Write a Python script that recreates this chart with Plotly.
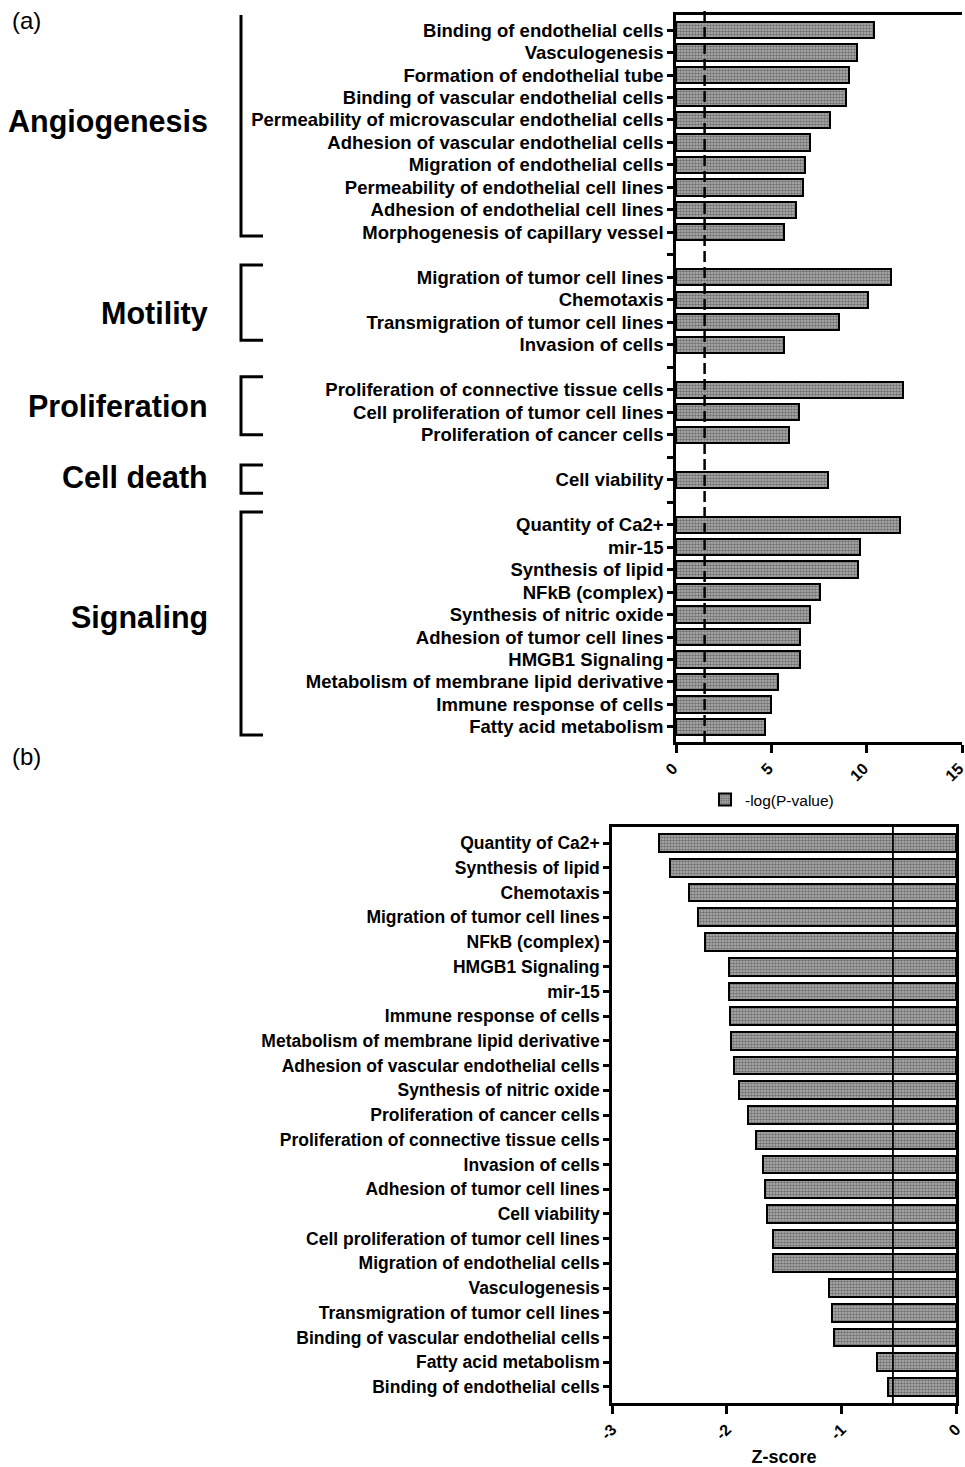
import plotly.graph_objects as go

# ---------------- Data: panel (a) ----------------
group_names = ["Angiogenesis", "Motility", "Proliferation", "Cell death", "Signaling"]

angio_terms = ["Binding of endothelial cells", "Vasculogenesis", "Formation of endothelial tube",
               "Binding of vascular endothelial cells", "Permeability of microvascular endothelial cells",
               "Adhesion of vascular endothelial cells", "Migration of endothelial cells",
               "Permeability of endothelial cell lines", "Adhesion of endothelial cell lines",
               "Morphogenesis of capillary vessel"]
angio_vals = [10.4, 9.5, 9.07, 8.9, 8.07, 7.03, 6.76, 6.66, 6.29, 5.66]

motility_terms = ["Migration of tumor cell lines", "Chemotaxis", "Transmigration of tumor cell lines",
                  "Invasion of cells"]
motility_vals = [11.27, 10.07, 8.55, 5.66]

prolif_terms = ["Proliferation of connective tissue cells", "Cell proliferation of tumor cell lines",
                "Proliferation of cancer cells"]
prolif_vals = [11.9, 6.45, 5.93]

death_terms = ["Cell viability"]
death_vals = [7.97]

signal_terms = ["Quantity of Ca2+", "mir-15", "Synthesis of lipid", "NFkB (complex)",
                "Synthesis of nitric oxide", "Adhesion of tumor cell lines", "HMGB1 Signaling",
                "Metabolism of membrane lipid derivative", "Immune response of cells",
                "Fatty acid metabolism"]
signal_vals = [11.75, 9.65, 9.54, 7.55, 7.03, 6.5, 6.5, 5.35, 4.98, 4.67]

threshold_a = 1.5
xticks_a = [0, 5, 10, 15]

# ---------------- Data: panel (b) ----------------
z_terms = ["Quantity of Ca2+", "Synthesis of lipid", "Chemotaxis", "Migration of tumor cell lines",
           "NFkB (complex)", "HMGB1 Signaling", "mir-15", "Immune response of cells",
           "Metabolism of membrane lipid derivative", "Adhesion of vascular endothelial cells",
           "Synthesis of nitric oxide", "Proliferation of cancer cells",
           "Proliferation of connective tissue cells", "Invasion of cells",
           "Adhesion of tumor cell lines", "Cell viability", "Cell proliferation of tumor cell lines",
           "Migration of endothelial cells", "Vasculogenesis", "Transmigration of tumor cell lines",
           "Binding of vascular endothelial cells", "Fatty acid metabolism",
           "Binding of endothelial cells"]
z_vals = [-2.59, -2.49, -2.33, -2.25, -2.19, -1.98, -1.98, -1.97, -1.96, -1.94, -1.89, -1.81,
          -1.74, -1.68, -1.67, -1.65, -1.60, -1.60, -1.11, -1.08, -1.06, -0.69, -0.59]
threshold_b = -0.55
xticks_b = [-3, -2, -1, 0]
xticktext_b = ["-3", "-2", "-1", "0"]

# ---------------- Build slots for panel (a) ----------------
groups_terms = [angio_terms, motility_terms, prolif_terms, death_terms, signal_terms]
groups_vals = [angio_vals, motility_vals, prolif_vals, death_vals, signal_vals]

slot_labels, bar_pos, bar_vals, group_ranges = [], [], [], []
pos = 0
for gi, (terms, vals) in enumerate(zip(groups_terms, groups_vals)):
    start = pos
    for t, v in zip(terms, vals):
        slot_labels.append(t)
        bar_pos.append(pos)
        bar_vals.append(v)
        pos += 1
    group_ranges.append((start, pos - 1))
    if gi < len(groups_terms) - 1:
        slot_labels.append("")
        pos += 1
n_slots = pos

# ---------------- Styling ----------------
W, H = 965, 1467
FONT = "Liberation Sans"
BLACK = "black"
LW = 2.5

def px_x(p):
    return p / W

def px_y(p):
    return 1 - p / H

bar_marker = dict(
    color="#ababab",
    line=dict(color=BLACK, width=2),
    pattern=dict(shape=".", fgcolor="#303030", bgcolor="#b4b4b4", size=3, solidity=0.55),
)

fig = go.Figure()

fig.add_trace(go.Bar(
    x=bar_vals, y=bar_pos, orientation="h", width=0.72,
    marker=bar_marker, name="-log(P-value)", showlegend=True,
    xaxis="x", yaxis="y",
))

fig.add_trace(go.Bar(
    x=z_vals, y=list(range(len(z_terms))), orientation="h", width=0.72,
    marker=bar_marker, name="Z-score", showlegend=False,
    xaxis="x2", yaxis="y2",
))

fig.update_layout(
    width=W, height=H,
    margin=dict(l=0, r=0, t=0, b=0, autoexpand=False),
    paper_bgcolor="white", plot_bgcolor="white",
    font=dict(family=FONT, color=BLACK),
    bargap=0,
    xaxis=dict(
        domain=[px_x(676), px_x(962)], anchor="y", range=[0, 15], automargin=False,
        tickvals=xticks_a, ticktext=[str(v) for v in xticks_a],
        tickangle=-45, ticks="outside", ticklen=8, tickwidth=LW, tickcolor=BLACK,
        ticklabeloverflow="allow", ticklabelshift=-3,
        showline=True, linewidth=LW, linecolor=BLACK, mirror=True,
        showgrid=False, zeroline=False,
        tickfont=dict(family=FONT, size=16, color=BLACK, weight="bold"),
    ),
    yaxis=dict(
        domain=[px_y(742), px_y(15)], anchor="x", automargin=False,
        range=[n_slots - 1 + 0.67, -0.67],
        tickvals=list(range(n_slots)), ticktext=slot_labels,
        ticks="outside", ticklen=6, tickwidth=LW, tickcolor=BLACK,
        showline=True, linewidth=LW, linecolor=BLACK,
        showgrid=False, zeroline=False,
        tickfont=dict(family=FONT, size=18.5, color=BLACK, weight="bold"),
    ),
    xaxis2=dict(
        domain=[px_x(612), px_x(956)], anchor="y2", range=[-3, 0], automargin=False,
        tickvals=xticks_b, ticktext=xticktext_b,
        tickangle=-45, ticks="outside", ticklen=8, tickwidth=LW, tickcolor=BLACK,
        ticklabeloverflow="allow",
        showline=True, linewidth=LW, linecolor=BLACK, mirror=True,
        showgrid=False, zeroline=False,
        tickfont=dict(family=FONT, size=16, color=BLACK, weight="bold"),
        title=dict(text="Z-score", font=dict(family=FONT, size=18, color=BLACK, weight="bold"),
                   standoff=10),
    ),
    yaxis2=dict(
        domain=[px_y(1403), px_y(827)], anchor="x2", automargin=False,
        range=[len(z_terms) - 1 + 0.65, -0.65],
        tickvals=list(range(len(z_terms))), ticktext=z_terms,
        ticks="outside", ticklen=6, tickwidth=LW, tickcolor=BLACK,
        showline=True, linewidth=LW, linecolor=BLACK, mirror=True,
        showgrid=False, zeroline=False,
        tickfont=dict(family=FONT, size=17.5, color=BLACK, weight="bold"),
    ),
    legend=dict(
        x=px_x(772), y=px_y(800), xanchor="center", yanchor="middle",
        orientation="h", bgcolor="rgba(0,0,0,0)",
        font=dict(family=FONT, size=15.5, color=BLACK),
        itemwidth=30,
    ),
)

# threshold lines
fig.add_shape(type="line", xref="x", yref="y domain", x0=threshold_a, x1=threshold_a,
              y0=0, y1=1.01, line=dict(color=BLACK, width=2.5, dash="11px,5px"), layer="above")
fig.add_shape(type="line", xref="x2", yref="y2 domain", x0=threshold_b, x1=threshold_b,
              y0=0, y1=1, line=dict(color=BLACK, width=1.8), layer="above")

# group brackets and labels
bracket_pad = [(-0.8, 0.16), (-0.55, -0.2), (-0.58, 0.0), (-0.65, 0.6), (-0.56, 0.36)]
label_shift = [-0.45, 0.13, -0.28, -0.12, -0.39]
for name, (s, e), (pt, pb), ls in zip(group_names, group_ranges, bracket_pad, label_shift):
    top, bot = s + pt, e + pb
    xa, xb = px_x(241), px_x(263)
    fig.add_shape(type="path", xref="paper", yref="y",
                  path=f"M {xb},{top} L {xa},{top} L {xa},{bot} L {xb},{bot}",
                  line=dict(color=BLACK, width=3))
    fig.add_annotation(text=name, xref="paper", yref="y", x=px_x(210), y=(s + e) / 2 + ls,
                       xanchor="right", yanchor="middle", showarrow=False,
                       font=dict(family=FONT, size=30.5, color=BLACK, weight="bold"))

# panel letters
for letter, yy in [("(a)", 21), ("(b)", 756)]:
    fig.add_annotation(text=letter, xref="paper", yref="paper", x=px_x(10), y=px_y(yy),
                       xanchor="left", yanchor="middle", showarrow=False,
                       font=dict(family=FONT, size=24, color=BLACK))

fig.write_html(
    "out.html",
    config={"displayModeBar": False},
    post_script="document.body.style.margin='0';document.body.style.overflow='hidden';",
)
